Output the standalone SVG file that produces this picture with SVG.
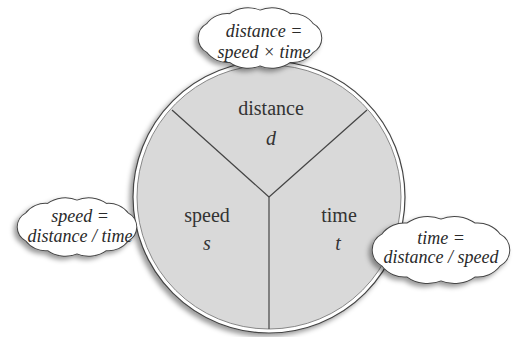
<svg xmlns="http://www.w3.org/2000/svg" width="515" height="337" viewBox="0 0 515 337">
<style>
.lbl{font-family:'Liberation Serif','Times New Roman',serif;font-size:20px;fill:#333;text-anchor:middle}
.var{font-family:'Liberation Serif','Times New Roman',serif;font-size:20px;font-style:italic;fill:#333;text-anchor:middle}
.cl{font-family:'Liberation Serif','Times New Roman',serif;font-size:18px;font-style:italic;fill:#2a2a2a;text-anchor:middle}
.cb{fill:#fff;stroke:#444;stroke-width:4.6;filter:url(#sh)}
.cw{fill:#fff;stroke:#fff;stroke-width:2.6}
.div{stroke:#444;stroke-width:1.2;fill:none}
</style>
<defs>
<filter id="sh" x="-20%" y="-20%" width="140%" height="150%">
<feDropShadow dx="-3" dy="3" stdDeviation="2.5" flood-color="#000" flood-opacity="0.4"/>
</filter>
<path id="c1" d="M320 42 A15 15 0 0 1 312 55 A24 24 0 0 1 290 64.5 A30 30 0 0 1 260 68 A30 30 0 0 1 230 64.5 A24 24 0 0 1 208 55 A15 15 0 0 1 200 42 A15 15 0 0 1 208 29 A24 24 0 0 1 230 19.5 A30 30 0 0 1 260 16 A30 30 0 0 1 290 19.5 A24 24 0 0 1 312 29 A15 15 0 0 1 320 42 Z"/>
<path id="c2" d="M137 232 A14.7 14.7 0 0 1 129.2 244.5 A23 23 0 0 1 108 253.7 A29 29 0 0 1 79 257 A29 29 0 0 1 50 253.7 A23 23 0 0 1 28.8 244.5 A14.7 14.7 0 0 1 21 232 A14.7 14.7 0 0 1 28.8 219.5 A23 23 0 0 1 50 210.3 A29 29 0 0 1 79 207 A29 29 0 0 1 108 210.3 A23 23 0 0 1 129.2 219.5 A14.7 14.7 0 0 1 137 232 Z"/>
<path id="c3" d="M508 250 A17 17 0 0 1 499 264.5 A26.7 26.7 0 0 1 474.5 275.1 A33.7 33.7 0 0 1 441 279 A33.7 33.7 0 0 1 407.5 275.1 A26.7 26.7 0 0 1 383 264.5 A17 17 0 0 1 374 250 A17 17 0 0 1 383 235.5 A26.7 26.7 0 0 1 407.5 224.9 A33.7 33.7 0 0 1 441 221 A33.7 33.7 0 0 1 474.5 224.9 A26.7 26.7 0 0 1 499 235.5 A17 17 0 0 1 508 250 Z"/>
</defs>
<rect width="515" height="337" fill="#fff"/>
<g id="wheel">
<circle cx="269" cy="197" r="136" fill="#fff" stroke="#444" stroke-width="1.2" filter="url(#sh)"/>
<circle cx="269" cy="197" r="132" fill="#d9d9d9" stroke="#888" stroke-width="1"/>
</g>
<g id="connectors">
<path class="div" d="M269 197 L172 110"/>
<path class="div" d="M269 197 L367 110"/>
<path class="div" d="M269 197 L269 329"/>
</g>
<g id="distance">
<text class="lbl" x="271" y="115">distance</text>
<text class="var" x="271" y="145">d</text>
</g>
<g id="speed">
<text class="lbl" x="207" y="222">speed</text>
<text class="var" x="207" y="250">s</text>
</g>
<g id="time">
<text class="lbl" x="339" y="222">time</text>
<text class="var" x="338" y="250">t</text>
</g>
<g id="cloud-distance" transform="translate(0,-4)">
<use href="#c1" class="cb"/>
<use href="#c1" class="cw"/>
<text class="cl" x="264" y="41">distance =</text>
<text class="cl" x="264" y="62">speed × time</text>
</g>
<g id="cloud-speed" transform="translate(-2,-5)">
<use href="#c2" class="cb"/>
<use href="#c2" class="cw"/>
<text class="cl" x="82" y="227">speed =</text>
<text class="cl" x="82" y="247">distance / time</text>
</g>
<g id="cloud-time">
<use href="#c3" class="cb"/>
<use href="#c3" class="cw"/>
<text class="cl" x="441" y="244">time =</text>
<text class="cl" x="441" y="263">distance / speed</text>
</g>
</svg>
